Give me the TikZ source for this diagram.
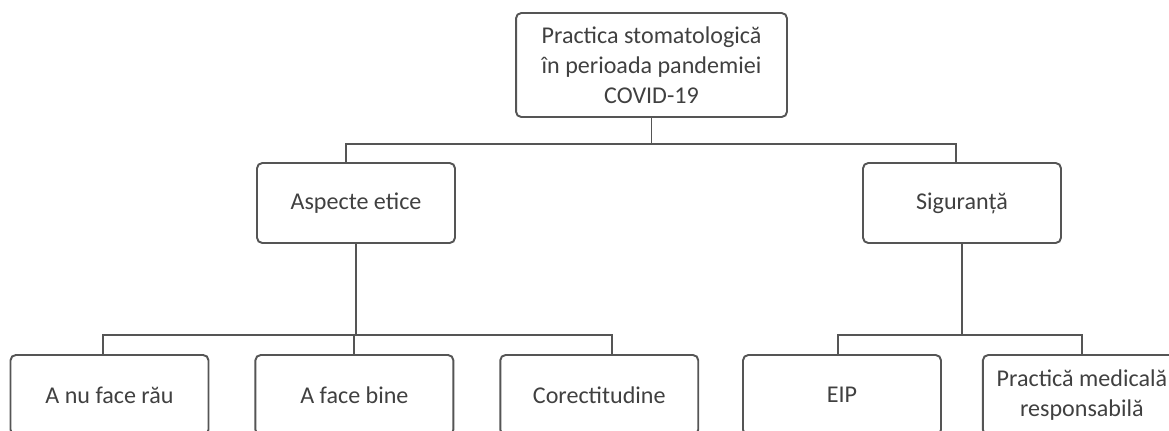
\documentclass[tikz,border=0pt]{standalone}
\usepackage{fontspec}
\setmainfont{Carlito}
\usetikzlibrary{positioning}
\definecolor{linegray}{RGB}{85,85,85}
\definecolor{textgray}{RGB}{64,64,64}

\begin{document}
\begin{tikzpicture}[
  x = 0.02cm, y = -0.02cm,
  node distance = 0.9cm and 0.9cm,
  box/.style = {rectangle, draw=linegray, line width=1.1pt, rounded corners=3pt,
                align=center, text=textgray, inner sep=2pt,
                font=\fontsize{13.7}{17}\selectfont,
                minimum width=3.96cm, minimum height=1.6cm},
  link/.style = {draw=linegray, line width=1.1pt}
]
\useasboundingbox (0,0) rectangle (1169,430);
\clip (0,0) rectangle (1169,430);

% ───────── 1st row ─────────
\node[box, minimum width=5.42cm, minimum height=2.08cm] (root) at (651.5,65)
  {Practica stomatologică\\în perioada pandemiei\\COVID-19};

% ───────── 2nd row ─────────
\node[box] (etic) at (356,203) {Aspecte etice};
\node[box] (sig)  at (962,203) {Siguranță};

% ───────── 3rd row ─────────
\node[box] (rau) at (109.5,395) {A nu face rău};
\node[box, right=of rau]   (bine)   {A face bine};
\node[box, right=of bine]  (corect) {Corectitudine};
\node[box] (eip) at (842,395) {EIP};
\node[box, right=0.8cm of eip] (resp) {Practică medicală\\responsabilă};

% ───────── connectors ──────────
\draw[link] (root.south) -- ++(0,26) coordinate (rbar);
\draw[link] (rbar) -| ([xshift=-0.2cm]etic.north);
\draw[link] (rbar) -| ([xshift=-0.12cm]sig.north);

\draw[link] (etic.south) -- ++(0,91) coordinate (ebar);
\draw[link] (ebar) -| ([xshift=-0.13cm]rau.north);
\draw[link] (ebar) -| (bine.north);
\draw[link] (ebar) -| ([xshift=0.25cm]corect.north);

\draw[link] (sig.south) -- ++(0,91) coordinate (sbar);
\draw[link] (sbar) -| ([xshift=-0.08cm]eip.north);
\draw[link] (sbar) -| (resp.north);
\end{tikzpicture}
\end{document}
